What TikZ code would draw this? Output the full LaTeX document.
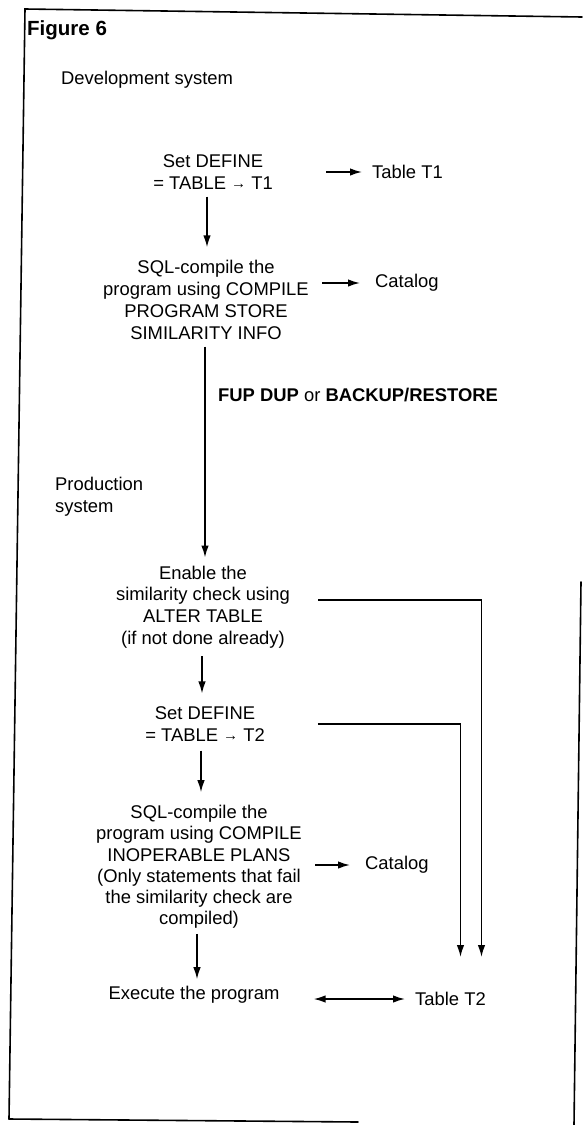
\documentclass[tikz,border=0pt]{standalone}
\usepackage{fontspec}
\setmainfont{Liberation Sans}
\usetikzlibrary{arrows.meta}
\newcommand{\sar}{{\fontsize{15}{15}\selectfont\raisebox{0.1ex}{→}}}
\begin{document}
\begin{tikzpicture}[x=1pt,y=-1pt,
  txt/.style={font=\fontsize{18.4}{21.8}\selectfont, inner sep=0pt, align=center},
  bold/.style={font=\fontsize{18.4}{21.8}\selectfont\bfseries},
  tip/.tip={Latex[length=12pt,width=7.5pt]},
  arr/.style={draw, line width=1.6pt, -tip},
  darr/.style={draw, line width=1.6pt, tip-tip},
  frameline/.style={line width=1.6pt, line cap=round, line join=miter}]
\useasboundingbox (0,0) rectangle (582,1125);
% frame
\draw[frameline] (9,1119) -- (25,9) -- (582,17);
\draw[frameline] (9,1119) -- (358,1122);
\draw[frameline] (581,582) -- (574,1125);
% texts
\node[txt, anchor=west, font=\fontsize{20.5}{24}\selectfont\bfseries] (fig) at (27,30) {Figure 6};
\node[txt, anchor=west] (dev) at (61,80) {Development system};
\node[txt] (a) at (213,172) {Set DEFINE\\= TABLE \sar{} T1};
\node[txt, anchor=west] (t1) at (372,172) {Table T1};
\node[txt] (b) at (206,300) {SQL-compile the\\program using COMPILE\\PROGRAM STORE\\SIMILARITY INFO};
\node[txt, anchor=west] (cat1) at (375,283) {Catalog};
\node[txt, bold, anchor=west] (fup) at (218,395) {FUP DUP {\mdseries or} BACKUP/RESTORE};
\node[txt, anchor=west, align=left] (prod) at (55,497) {Production\\system};
\node[txt] (c) at (203,607) {Enable the\\similarity check using\\ALTER TABLE\\(if not done already)};
\node[txt] (d) at (205,724) {Set DEFINE\\= TABLE \sar{} T2};
\node[txt, font=\fontsize{18.4}{21.2}\selectfont] (e) at (199,867) {SQL-compile the\\program using COMPILE\\INOPERABLE PLANS\\(Only statements that fail\\the similarity check are\\compiled)};
\node[txt, anchor=west] (cat2) at (365,865) {Catalog};
\node[txt] (f) at (194,995) {Execute the program};
\node[txt, anchor=west] (t2) at (415,999) {Table T2};
% guide coordinates
\coordinate (x1) at (207,0);
\coordinate (x2) at (205,0);
\coordinate (x3) at (202,0);
\coordinate (x4) at (201,0);
\coordinate (x5) at (197,0);
\coordinate (fe) at ([xshift=34pt]f.east);
% connectors
\draw[arr] ([xshift=-46pt]t1.west) -- ([xshift=-10pt]t1.west);
\draw[arr, shorten <=7pt, shorten >=13pt] (a.south -| x1) -- (b.north -| x1);
\draw[arr] ([xshift=-53pt]cat1.west) -- ([xshift=-15pt]cat1.west);
\draw[arr, shorten <=7pt, shorten >=8pt] (b.south -| x2) -- (c.north -| x2);
\draw[arr, shorten <=8pt, shorten >=13pt] (c.south -| x3) -- (d.north -| x3);
\draw[arr, shorten <=9pt, shorten >=13pt] (d.south -| x4) -- (e.north -| x4);
\draw[arr, shorten <=5pt, shorten >=7pt] (e.south -| x5) -- (f.north -| x5);
\draw[arr] ([xshift=-50pt]cat2.west) -- ([xshift=-15pt]cat2.west);
\draw[darr] (fe |- t2.west) -- ([xshift=-10pt]t2.west);
\draw[arr] ([xshift=28pt,yshift=7pt]c.east) -| ([xshift=31pt,yshift=35pt]t2.north);
\draw[arr] ([xshift=53pt,yshift=0pt]d.east) -| ([xshift=10pt,yshift=35pt]t2.north);
\end{tikzpicture}
\end{document}
